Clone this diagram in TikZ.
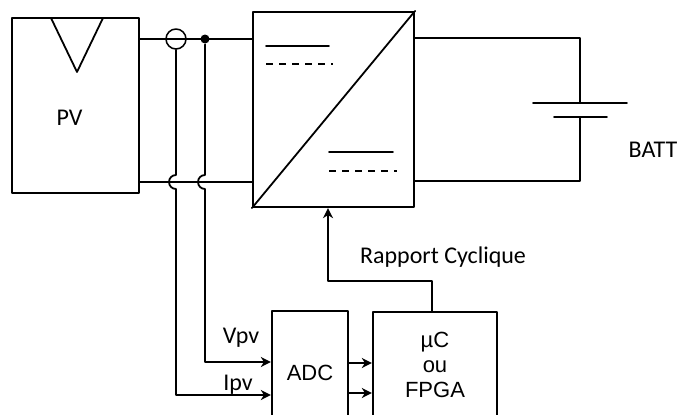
\documentclass[tikz,border=0pt]{standalone}
\usepackage{fontspec}
\setmainfont{Carlito}
\newfontfamily\blocfont{Liberation Sans}
\usetikzlibrary{arrows.meta,positioning,calc}
\tikzstyle{every node}=[font=\fontsize{24}{28}\selectfont]
\tikzstyle{every path}=[line width=1.8pt,line cap=round,line join=round]
\tikzstyle{bloc}=[draw,line width=2.2pt,inner sep=0pt]
\tikzstyle{txtbloc}=[font=\blocfont\fontsize{22}{25}\selectfont]
\tikzstyle{fleche}=[-{Stealth[length=10pt,width=10pt,inset=3pt]}]

\begin{document}
\begin{tikzpicture}[x=1pt,y=-1pt]
  \useasboundingbox (0,0) rectangle (681,415);
  % panneau
  \node[bloc,minimum width=127pt,minimum height=175pt] (pv) at (75.5,105.5) {};
  \draw (51,18) -- (77,72) -- (103,18);
  \node (pvlbl) at (69.5,118) {PV};
  % convertisseur
  \node[bloc,minimum width=161pt,minimum height=195pt] (conv) at (333.5,109.5) {};
  \draw (conv.south west) -- (conv.north east);
  \draw (266,46) -- (329,46) (329,152) -- (393,152);
  \draw[dash pattern=on 7pt off 6pt,line cap=butt] (266,64) -- (333,64) (329,171) -- (397,171);
  % capteurs
  \node[draw,circle,minimum size=20pt,inner sep=0pt,line width=1.5pt] (cs) at (176,39) {};
  \node[circle,fill,minimum size=9pt,inner sep=0pt] (nd) at (205,39) {};
  \draw (pv.east |- cs) -- (conv.west |- cs);
  \draw (pv.east |- 0,182) -- (conv.west |- 0,182);
  % blocs de commande
  \node[bloc,txtbloc,minimum width=76pt,minimum height=124pt] (adc) at (310,373) {ADC};
  \node[bloc,txtbloc,minimum width=124pt,minimum height=106pt,align=center] (mcu) at (435,365) {µC\\ou\\FPGA};
  \draw[fleche] (nd) -- (205,175) arc[start angle=270,end angle=90,radius=7] -- (205,362) -- (adc.west |- 0,362);
  \draw[fleche] (cs.south) -- (176,175) arc[start angle=270,end angle=90,radius=7] -- (176,395) -- (adc.west |- 0,395);
  \node (vpv) at (241,338) {Vpv};
  \node (ipv) at (238,385) {Ipv};
  \draw[fleche] (adc.east |- 0,363) -- (mcu.west |- 0,363);
  \draw[fleche] (adc.east |- 0,393) -- (mcu.west |- 0,393);
  \draw[fleche] (432,0 |- mcu.north) -- (432,281) -- (328,281) -- (328,0 |- conv.south);
  \node (rc) at (443,257) {Rapport Cyclique};
  % batterie
  \coordinate (bplus) at (580,103);
  \coordinate (bmoins) at (580,117);
  \draw (conv.east |- 0,38) -- (580,38) -- (bplus);
  \draw (533,103) -- (627,103) (554,117) -- (607,117);
  \draw (bmoins) -- (580,181) -- (conv.east |- 0,181);
  \node (batt) at (653,150) {BATT};
\end{tikzpicture}
\end{document}
